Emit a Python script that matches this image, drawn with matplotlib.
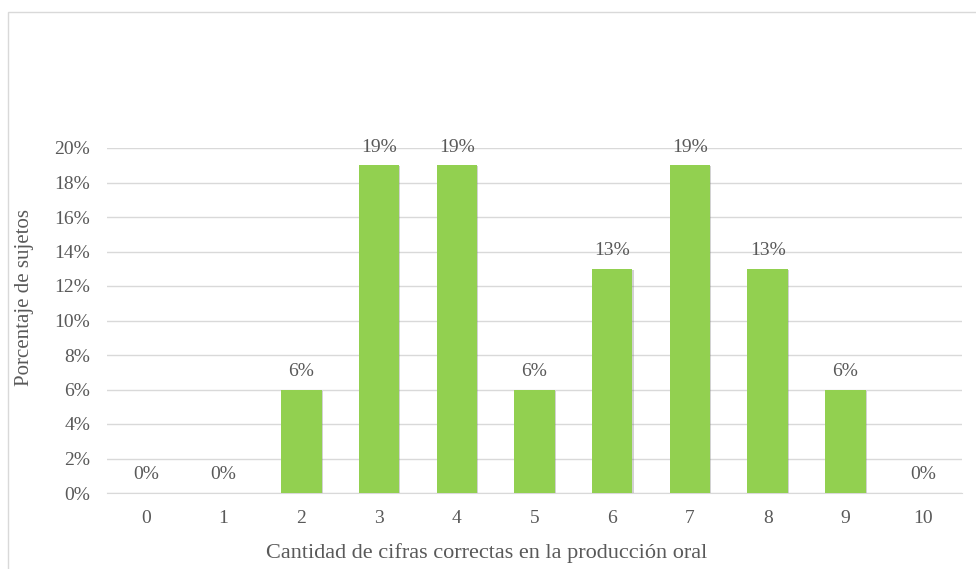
import matplotlib
matplotlib.use("Agg")
import matplotlib.pyplot as plt
from matplotlib.patches import Rectangle
import matplotlib.patheffects as pe
from matplotlib.ticker import FuncFormatter, MultipleLocator

categories = ["0", "1", "2", "3", "4", "5", "6", "7", "8", "9", "10"]
values = [0, 0, 6, 19, 19, 6, 13, 19, 13, 6, 0]
value_labels = ["0%", "0%", "6%", "19%", "19%", "6%", "13%", "19%", "13%", "6%", "0%"]

text_color = "#595959"
bar_color = "#92D050"
grid_color = "#D9D9D9"

plt.rcParams["font.family"] = ["Liberation Serif", "DejaVu Serif"]

fig = plt.figure(figsize=(9.76, 5.69), dpi=100)
fig.patches.append(Rectangle((8/976, -0.05), 2.0, 1 - 12/569 + 0.05,
                             transform=fig.transFigure, fill=False,
                             edgecolor=grid_color, linewidth=1.0))

ax = fig.add_axes([107/976, (569-493)/569, (962-107)/976, (493-148)/569])
x = list(range(len(categories)))
bars = ax.bar(x, values, width=0.52, color=bar_color, zorder=3)
for b in bars:
    b.set_path_effects([pe.SimplePatchShadow(offset=(0.8, -0.8), shadow_rgbFace="#7f7f7f", alpha=0.35), pe.Normal()])

for xi, v, lab in zip(x, values, value_labels):
    ax.annotate(lab, (xi, v), xytext=(0, 7), textcoords="offset points",
                ha="center", va="bottom", fontsize=14, color=text_color)

ax.set_xlim(-0.5, len(categories) - 0.5)
ax.set_ylim(0, 20)
ax.yaxis.set_major_locator(MultipleLocator(2))
ax.yaxis.set_major_formatter(FuncFormatter(lambda v, p: f"{int(round(v))}%"))
ax.set_xticks(x)
ax.set_xticklabels(categories)
ax.grid(axis="y", color=grid_color, linewidth=1.0, zorder=0)
ax.set_axisbelow(True)
for s in ["top", "right", "left"]:
    ax.spines[s].set_visible(False)
ax.spines["bottom"].set_color(grid_color)
ax.tick_params(axis="both", length=0, labelsize=14, labelcolor=text_color)
ax.tick_params(axis="x", pad=12)
ax.tick_params(axis="y", pad=12)

ax.set_xlabel("Cantidad de cifras correctas en la producción oral", fontsize=16,
              color=text_color, va="center", ha="center")
ax.xaxis.set_label_coords((487-107)/855, (493-553)/345)
ax.set_ylabel("Porcentaje de sujetos", fontsize=15, color=text_color,
              va="center", ha="center")
ax.yaxis.set_label_coords((25-107)/855, (493-298)/345)

fig.savefig("out.png", dpi=100)
